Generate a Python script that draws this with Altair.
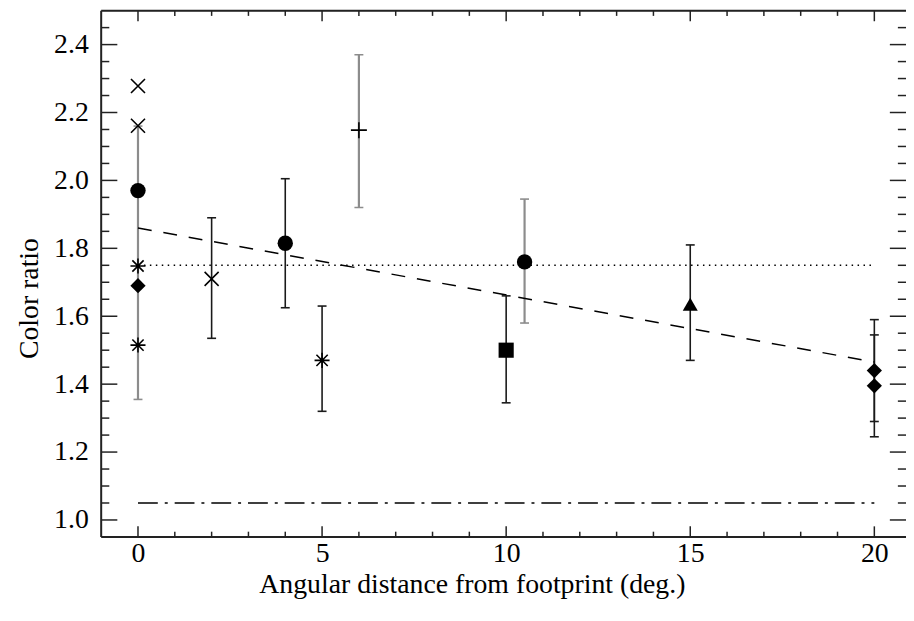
import altair as alt
import pandas as pd

# ---------------- data ----------------
# error bars (x, low, high, tone)
bar_x = [0, 2, 4, 5, 6, 10, 10.5, 15, 20, 20]
bar_lo = [1.355, 1.535, 1.625, 1.32, 1.92, 1.345, 1.58, 1.47, 1.29, 1.245]
bar_hi = [2.16, 1.89, 2.005, 1.63, 2.37, 1.66, 1.945, 1.81, 1.59, 1.545]
bar_tone = ["gray", "black", "black", "black", "gray", "black", "gray", "black", "black", "black"]

# filled symbols
fill_x = [0, 4, 10.5, 0, 20, 20, 10, 15]
fill_y = [1.97, 1.815, 1.76, 1.69, 1.44, 1.395, 1.50, 1.635]
fill_kind = ["circle", "circle", "circle", "diamond", "diamond", "diamond", "square", "triangle"]

# line symbols
line_x = [0, 0, 0, 0, 2, 5, 6]
line_y = [2.278, 2.161, 1.748, 1.515, 1.71, 1.47, 2.148]
line_kind = ["cross", "cross", "asterisk", "asterisk", "cross", "asterisk", "plus"]

# reference lines
fit_x = [0, 20]
fit_y = [1.86, 1.465]
mean_x = [0, 20]
mean_y = [1.75, 1.75]
base_x = [0, 20]
base_y = [1.05, 1.05]

# axis ticks
x_major = [0, 5, 10, 15, 20]
x_minor = [1, 2, 3, 4, 6, 7, 8, 9, 11, 12, 13, 14, 16, 17, 18, 19]
y_major = [1.0, 1.2, 1.4, 1.6, 1.8, 2.0, 2.2, 2.4]
y_minor = [1.05, 1.1, 1.15, 1.25, 1.3, 1.35, 1.45, 1.5, 1.55, 1.65, 1.7, 1.75,
           1.85, 1.9, 1.95, 2.05, 2.1, 2.15, 2.25, 2.3, 2.35, 2.45]

# ---------------- chart ----------------
W, H = 812, 531
FONT = "Liberation Serif"
FS = 28
xs = alt.Scale(domain=[-1, 20.86], nice=False, zero=False)
ys = alt.Scale(domain=[0.95, 2.5], nice=False, zero=False)

bars = pd.DataFrame({"x": bar_x, "lo": bar_lo, "hi": bar_hi, "tone": bar_tone})
fills = pd.DataFrame({"x": fill_x, "y": fill_y, "kind": fill_kind})
lines = pd.DataFrame({"x": line_x, "y": line_y, "kind": line_kind})

tone_color = alt.Scale(domain=["gray", "black"], range=["#8c8c8c", "#1a1a1a"])
tone_width = alt.Scale(domain=["gray", "black"], range=[2.2, 1.6])

x_axis = alt.Axis(values=x_major, format="d", ticks=False, tickSize=0, domain=False, grid=False,
                  labelFont=FONT, labelFontSize=FS, labelColor="black", labelPadding=3,
                  title="Angular distance from footprint (deg.)", titleFont=FONT, titleFontSize=FS,
                  titleFontWeight="normal", titleColor="black", titleX=374, titleY=56,
                  titleAlign="center", titleBaseline="alphabetic")
y_axis = alt.Axis(values=y_major, format=".1f", ticks=False, tickSize=0, domain=False, grid=False,
                  labelFont=FONT, labelFontSize=FS, labelColor="black", labelPadding=13,
                  title="Color ratio", titleFont=FONT, titleFontSize=FS, titleFontWeight="normal",
                  titleColor="black", titleAngle=270, titleX=-64, titleY=290,
                  titleAlign="center", titleBaseline="alphabetic")

X = lambda f: alt.X(f, scale=xs)
Y = lambda f: alt.Y(f, scale=ys)

err = alt.Chart(bars).mark_rule().encode(
    x=alt.X("x:Q", scale=xs, axis=x_axis),
    y=alt.Y("lo:Q", scale=ys, axis=y_axis),
    y2="hi:Q",
    color=alt.Color("tone:N", scale=tone_color, legend=None),
    strokeWidth=alt.StrokeWidth("tone:N", scale=tone_width, legend=None),
)
cap_hi = alt.Chart(bars).mark_tick(orient="horizontal", size=9, thickness=1.6, opacity=1).encode(
    x=X("x:Q"), y=Y("hi:Q"),
    color=alt.Color("tone:N", scale=tone_color, legend=None),
)
cap_lo = alt.Chart(bars).mark_tick(orient="horizontal", size=9, thickness=1.6, opacity=1).encode(
    x=X("x:Q"), y=Y("lo:Q"),
    color=alt.Color("tone:N", scale=tone_color, legend=None),
)

def ref_line(xv, yv, dash):
    df = pd.DataFrame({"x": xv, "y": yv})
    return alt.Chart(df).mark_line(color="black", strokeWidth=1.5, strokeDash=dash).encode(
        x=X("x:Q"), y=Y("y:Q"))

fit = ref_line(fit_x, fit_y, [14, 12])
mean = ref_line(mean_x, mean_y, [1.5, 4.5])
base = ref_line(base_x, base_y, [20, 7, 3, 7])

filled = alt.Chart(fills).mark_point(filled=True, opacity=1, color="black", strokeWidth=0).encode(
    x=X("x:Q"), y=Y("y:Q"),
    shape=alt.Shape("kind:N", scale=alt.Scale(domain=["circle", "diamond", "square", "triangle"],
                                              range=["circle", "diamond", "square", "triangle-up"]),
                    legend=None),
    size=alt.Size("kind:N", scale=alt.Scale(domain=["circle", "diamond", "square", "triangle"],
                                            range=[240, 230, 190, 230]), legend=None),
)
stroked = alt.Chart(lines).mark_point(filled=False, opacity=1, color="black", strokeWidth=1.6).encode(
    x=X("x:Q"), y=Y("y:Q"),
    shape=alt.Shape("kind:N", scale=alt.Scale(
        domain=["cross", "asterisk", "plus"],
        range=["M-1,-1L1,1M-1,1L1,-1",
               "M-0.75,-0.75L0.75,0.75M-0.75,0.75L0.75,-0.75M-1,0L1,0M0,-1L0,1",
               "M-1,0L1,0M0,-1L0,1"]), legend=None),
    size=alt.Size("kind:N", scale=alt.Scale(domain=["cross", "asterisk", "plus"],
                                            range=[200, 260, 160]), legend=None),
)

# inward ticks on all four sides
def yticks(vals, length):
    df = pd.DataFrame({"v": vals})
    left = alt.Chart(df).mark_rule(color="#222", strokeWidth=1.5).encode(
        y=Y("v:Q"), x=alt.value(0), x2=alt.value(length))
    right = alt.Chart(df).mark_rule(color="#222", strokeWidth=1.5).encode(
        y=Y("v:Q"), x=alt.value(W), x2=alt.value(W - length))
    return [left, right]

def xticks(vals, length):
    df = pd.DataFrame({"v": vals})
    bottom = alt.Chart(df).mark_rule(color="#222", strokeWidth=1.5).encode(
        x=X("v:Q"), y=alt.value(H), y2=alt.value(H - length))
    top = alt.Chart(df).mark_rule(color="#222", strokeWidth=1.5).encode(
        x=X("v:Q"), y=alt.value(0), y2=alt.value(length))
    return [bottom, top]

# frame: left, top and bottom edges (the right edge lies at the picture's border)
frame_left = alt.Chart(pd.DataFrame({"k": [0]})).mark_rule(color="#222", strokeWidth=2).encode(
    x=alt.value(0), y=alt.value(0), y2=alt.value(H))
frame_top = alt.Chart(pd.DataFrame({"k": [0]})).mark_rule(color="#222", strokeWidth=2).encode(
    x=alt.value(0), x2=alt.value(W), y=alt.value(0))
frame_bottom = alt.Chart(pd.DataFrame({"k": [0]})).mark_rule(color="#222", strokeWidth=2).encode(
    x=alt.value(0), x2=alt.value(W), y=alt.value(H))

layers = [err] + yticks(y_major, 16.3) + yticks(y_minor, 8.2) + xticks(x_major, 10.7) + \
    xticks(x_minor, 5.3) + [frame_left, frame_top, frame_bottom,
                             base, mean, fit, cap_hi, cap_lo, filled, stroked]

chart = alt.layer(*layers).resolve_scale(
    shape="independent", size="independent"
).properties(
    width=W, height=H,
    autosize=alt.AutoSizeParams(type="none"),
    padding={"left": 94, "top": 0, "right": 0, "bottom": 66},
).configure_view(strokeWidth=0).configure(background="white")

chart.save("out.html", embed_options={"renderer": "svg", "actions": False})
